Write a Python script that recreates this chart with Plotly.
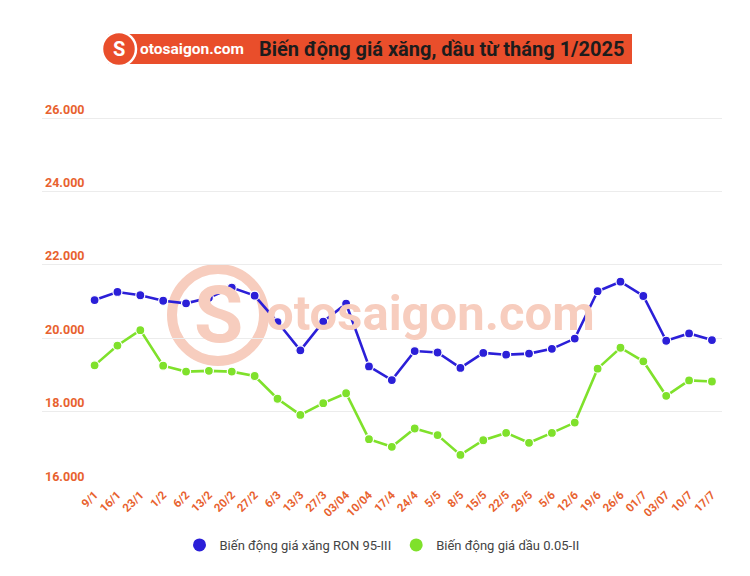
import plotly.graph_objects as go

dates = ["9/1", "16/1", "23/1", "1/2", "6/2", "13/2", "20/2", "27/2", "6/3", "13/3",
         "27/3", "03/04", "10/04", "17/4", "24/4", "5/5", "8/5", "15/5", "22/5", "29/5",
         "5/6", "12/6", "19/6", "26/6", "01/7", "03/07", "10/7", "17/7"]
ron95 = [21040, 21260, 21170, 21020, 20950, 21100, 21380, 21160, 20440, 19670,
         20450, 20940, 19230, 18860, 19650, 19610, 19190, 19600, 19550, 19580,
         19710, 19990, 21280, 21540, 21150, 19930, 20130, 19950]
diesel = [19260, 19800, 20220, 19250, 19090, 19110, 19090, 18970, 18350, 17910,
          18230, 18500, 17250, 17040, 17540, 17360, 16820, 17220, 17420, 17150,
          17420, 17700, 19170, 19740, 19370, 18430, 18850, 18820]
y_ticks = [16000, 18000, 20000, 22000, 24000, 26000]
series_names = ["Biến động giá xăng RON 95-III", "Biến động giá dầu 0.05-II"]

BLUE = "#2B1FD8"
GREEN = "#7FE12B"
ORANGE = "#E8622F"
BANNER = "#E94E2B"
WM = "#F7CDBE"
FONT = "Roboto"

OFF = 8  # page body margin
# plot area in reference pixels
L, R, T, B = 42, 722, 100, 485
W, H = R - L, B - T


def px(x):
    return (x - L) / W


def py(y):
    return (B - y) / H


fig = go.Figure()
for name, vals, col in [(series_names[0], ron95, BLUE), (series_names[1], diesel, GREEN)]:
    fig.add_trace(go.Scatter(
        x=dates, y=vals, name=name, mode="lines+markers", showlegend=False,
        line=dict(color=col, width=2.6),
        marker=dict(color=col, size=9, line=dict(color="white", width=1.2)),
    ))
    fig.add_trace(go.Scatter(
        x=[None], y=[None], name=name, mode="markers", showlegend=True,
        marker=dict(color=col, size=13),
    ))

shapes = [
    dict(type="rect", xref="paper", yref="paper", x0=px(108), x1=px(632),
         y0=py(64), y1=py(34), fillcolor=BANNER, line=dict(width=0), layer="above"),
    dict(type="circle", xref="paper", yref="paper", x0=px(102), x1=px(136),
         y0=py(66), y1=py(32), fillcolor=BANNER, line=dict(color="white", width=2.5),
         layer="above"),
    dict(type="circle", xref="paper", yref="paper", x0=px(172), x1=px(264),
         y0=py(361), y1=py(269), fillcolor="rgba(0,0,0,0)",
         line=dict(color=WM, width=10), layer="below"),
]

annotations = [
    dict(text="S", xref="paper", yref="paper", x=px(119), y=py(49),
         showarrow=False, font=dict(family=FONT, size=20, color="white", weight="bold"),
         xanchor="center", yanchor="middle"),
    dict(text="otosaigon.com", xref="paper", yref="paper", x=px(138), y=py(49),
         showarrow=False, font=dict(family=FONT, size=15.5, color="white", weight="bold"),
         xanchor="left", yanchor="middle"),
    dict(text="Biến động giá xăng, dầu từ tháng 1/2025", xref="paper", yref="paper",
         x=px(257), y=py(49), showarrow=False,
         font=dict(family=FONT, size=20, color="#1c1c1c", weight="bold"),
         xanchor="left", yanchor="middle"),
    dict(text="S", xref="paper", yref="paper", x=px(218), y=py(315),
         showarrow=False, font=dict(family=FONT, size=80, color=WM, weight="bold"),
         xanchor="center", yanchor="middle"),
    dict(text="otosaigon.com", xref="paper", yref="paper", x=px(430), y=py(313),
         showarrow=False, font=dict(family=FONT, size=49, color=WM, weight="bold"),
         xanchor="center", yanchor="middle"),
]

# y scale: 36.7 px per 1000
ytop = 16000 + (B - T) / 36.7 * 1000
fig.update_layout(
    width=750, height=576,
    margin=dict(l=L - OFF, r=750 - (R - OFF), t=T - OFF, b=576 - (B - OFF)),
    plot_bgcolor="white", paper_bgcolor="white",
    separators=",.",
    font=dict(family=FONT),
    shapes=shapes, annotations=annotations,
    showlegend=True,
    legend=dict(orientation="h", x=0.5, xanchor="center", y=py(545), yanchor="middle",
                font=dict(family=FONT, size=13, color="#444"), itemwidth=30),
)
fig.update_xaxes(type="category", range=[-2.3, 27.44], showgrid=False, showline=False,
                 automargin=False,
                 tickangle=-45, tickfont=dict(family=FONT, size=11.5, color=ORANGE, weight="bold"),
                 ticks="", ticklen=0)
fig.update_yaxes(range=[16000, ytop], tickvals=y_ticks, tickformat=",d", automargin=False,
                 ticklabelposition="inside top", showgrid=True, gridcolor="#ececec", gridwidth=1,
                 zeroline=False, showline=False,
                 tickfont=dict(family=FONT, size=12.5, color=ORANGE, weight="bold"))

fig.write_html("out.html")
